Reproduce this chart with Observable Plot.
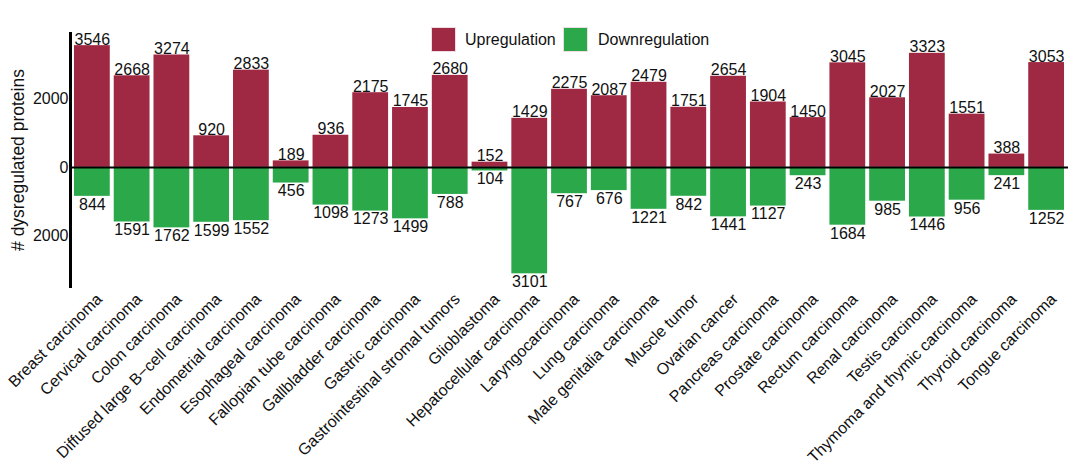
<!DOCTYPE html>
<html>
<head>
<meta charset="utf-8">
<script src="https://cdn.jsdelivr.net/npm/d3@7"></script>
<script src="https://cdn.jsdelivr.net/npm/@observablehq/plot@0.6"></script>
<style>
  html, body { margin: 0; padding: 0; background: #fff; }
  #wrap { position: relative; width: 1080px; height: 465px; font-family: "Liberation Sans", Arial, sans-serif; }
  .sw { position: absolute; width: 25px; height: 25px; box-sizing: border-box; border: 1px solid #eedde2; }
  .lab { position: absolute; font-size: 16px; color: #111; line-height: 25px; white-space: nowrap; }
</style>
</head>
<body>
<div id="wrap">
  <div id="chart"></div>
</div>
<script>
const categories = [
  "Breast carcinoma", "Cervical carcinoma", "Colon carcinoma", "Diffused large B\u2212cell carcinoma",
  "Endometrial carcinoma", "Esophageal carcinoma", "Fallopian tube carcinoma", "Gallbladder carcinoma",
  "Gastric carcinoma", "Gastrointestinal stromal tumors", "Glioblastoma", "Hepatocellular carcinoma",
  "Laryngocarcinoma", "Lung carcinoma", "Male genitalia carcinoma", "Muscle tumor", "Ovarian cancer",
  "Pancreas carcinoma", "Prostate carcinoma", "Rectum carcinoma", "Renal carcinoma", "Testis carcinoma",
  "Thymoma and thymic carcinoma", "Thyroid carcinoma", "Tongue carcinoma"
];
const upregulated = [3546, 2668, 3274, 920, 2833, 189, 936, 2175, 1745, 2680, 152, 1429, 2275, 2087, 2479, 1751, 2654, 1904, 1450, 3045, 2027, 3323, 1551, 388, 3053];
const downregulated = [844, 1591, 1762, 1599, 1552, 456, 1098, 1273, 1499, 788, 104, 3101, 767, 676, 1221, 842, 1441, 1127, 243, 1684, 985, 1446, 956, 241, 1252];
const series = ["Upregulation", "Downregulation"];
const colors = ["#9f2843", "#2aa84a"];
const yTicks = [-2000, 0, 2000];
const yLabel = "# dysregulated proteins";

const rows = [];
categories.forEach((c, i) => {
  rows.push({cat: c, type: series[0], value: upregulated[i], signed: upregulated[i]});
  rows.push({cat: c, type: series[1], value: downregulated[i], signed: -downregulated[i]});
});
const upRows = rows.filter(d => d.type === series[0]);
const downRows = rows.filter(d => d.type === series[1]);

const font = "Liberation Sans, Arial, sans-serif";

const chart = Plot.plot({
  width: 1080,
  height: 465,
  marginLeft: 70,
  marginRight: 12,
  marginTop: 33,
  marginBottom: 179,
  style: {fontFamily: font, fontSize: "16px", color: "#111", background: "#fff"},
  x: {domain: categories, paddingInner: 0.1, paddingOuter: 0.1, round: false},
  y: {domain: [-3470, 3900]},
  color: {domain: series, range: colors},
  marks: [
    Plot.barY(rows, {x: "cat", y1: 0, y2: "signed", fill: "type"}),
    Plot.ruleY([0], {stroke: "#000", strokeWidth: 2}),
    Plot.frame({anchor: "left", stroke: "#000", strokeWidth: 3}),
    Plot.text(upRows, {x: "cat", y: "signed", text: d => String(d.value), lineAnchor: "bottom", dy: -1, fill: "#111", fontSize: 16}),
    Plot.text(downRows, {x: "cat", y: "signed", text: d => String(d.value), lineAnchor: "top", dy: 2, fill: "#111", fontSize: 16}),
    Plot.axisY({ticks: yTicks, tickSize: 0, tickPadding: 2, tickFormat: d => String(Math.abs(d)), fontSize: 16, label: null}),
    Plot.text([yLabel], {frameAnchor: "left", text: d => d, rotate: -90, dx: -52, textAnchor: "middle", lineAnchor: "middle", fontSize: 17.5, fill: "#111"}),
    Plot.axisX({tickSize: 0, tickRotate: -45, tickPadding: 4, fontSize: 16, label: null, dx: 7, dy: 6})
  ]
});
document.getElementById("chart").appendChild(chart);

const wrap = document.getElementById("wrap");
const legendPos = [{sw: 431, lab: 465}, {sw: 563, lab: 598}];
series.forEach((s, i) => {
  const sw = document.createElement("div");
  sw.className = "sw";
  sw.style.background = colors[i];
  sw.style.left = legendPos[i].sw + "px";
  sw.style.top = "27px";
  wrap.appendChild(sw);
  const t = document.createElement("div");
  t.className = "lab";
  t.textContent = s;
  t.style.left = legendPos[i].lab + "px";
  t.style.top = "27px";
  wrap.appendChild(t);
});
</script>
</body>
</html>
